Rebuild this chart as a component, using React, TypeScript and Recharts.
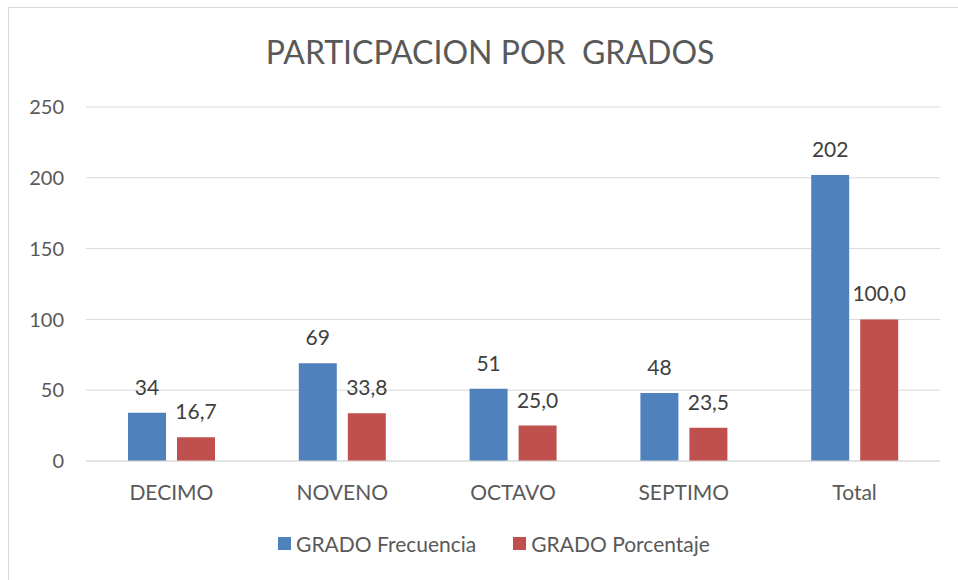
import React from "react";
import {
  Bar,
  BarChart,
  CartesianGrid,
  LabelList,
  Legend,
  XAxis,
  YAxis,
} from "recharts";

const grados: string[] = ["DECIMO", "NOVENO", "OCTAVO", "SEPTIMO", "Total"];
const frecuencia: number[] = [34, 69, 51, 48, 202];
const porcentaje: number[] = [16.7, 33.8, 25.0, 23.5, 100.0];
const yTicks: number[] = [0, 50, 100, 150, 200, 250];

const data = grados.map((g, i) => ({
  name: g,
  frecuencia: frecuencia[i],
  porcentaje: porcentaje[i],
}));

const FONT = "Lato, 'Open Sans', sans-serif";
const TEXT = "#595959";

const fmtComa = (v: any) => Number(v).toFixed(1).replace(".", ",");

// legend drawn by hand so spacing matches the office-style legend
const renderLegend = (props: any) => {
  const { payload } = props;
  return (
    <div
      style={{
        display: "flex",
        justifyContent: "center",
        alignItems: "center",
        fontFamily: FONT,
        fontSize: 21,
        color: TEXT,
        paddingLeft: 30,
      }}
    >
      {payload.map((entry: any, i: number) => (
        <div
          key={`leg-${i}`}
          style={{
            display: "flex",
            alignItems: "center",
            marginRight: i === 0 ? 37 : 0,
          }}
        >
          <span
            style={{
              width: 13,
              height: 13,
              background: entry.color,
              marginRight: 5,
              display: "inline-block",
            }}
          />
          <span>{entry.value}</span>
        </div>
      ))}
    </div>
  );
};

const App: React.FC = () => {
  return (
    <div
      style={{
        position: "absolute",
        left: 0,
        top: 0,
        width: 958,
        height: 580,
        background: "#fff",
        fontFamily: FONT,
        overflow: "hidden",
      }}
    >
      {/* chart frame */}
      <div
        style={{
          position: "absolute",
          left: 8,
          top: 7,
          width: 970,
          height: 590,
          border: "1px solid #d9d9d9",
        }}
      />
      <div
        style={{
          position: "absolute",
          left: 0,
          top: 32,
          width: 980,
          textAlign: "center",
          fontSize: 32,
          color: TEXT,
          whiteSpace: "pre",
        }}
      >
        PARTICPACION POR  GRADOS
      </div>
      <div style={{ position: "absolute", left: 0, top: 0 }}>
        <BarChart
          width={958}
          height={580}
          data={data}
          margin={{ top: 107, right: 18, left: 26, bottom: 54 }}
          barSize={38}
          barGap={11}
        >
          <CartesianGrid stroke="#d9d9d9" vertical={false} />
          <XAxis
            dataKey="name"
            axisLine={{ stroke: "#d9d9d9" }}
            tickLine={false}
            tickMargin={18}
            tick={{ fill: TEXT, fontSize: 21, fontFamily: FONT }}
            height={40}
          />
          <YAxis
            width={60}
            domain={[0, 250]}
            ticks={yTicks}
            axisLine={false}
            tickLine={false}
            tickMargin={16}
            tick={{ fill: TEXT, fontSize: 20, fontFamily: FONT }}
          />
          <Legend
            content={renderLegend}
            wrapperStyle={{ top: 531, left: 0, width: 958 }}
          />
          <Bar
            dataKey="frecuencia"
            name="GRADO Frecuencia"
            fill="#4F81BD"
            isAnimationActive={false}
          >
            <LabelList
              dataKey="frecuencia"
              position="top"
              offset={18}
              fill="#404040"
              fontSize={21}
              fontFamily={FONT}
            />
          </Bar>
          <Bar
            dataKey="porcentaje"
            name="GRADO Porcentaje"
            fill="#C0504D"
            isAnimationActive={false}
          >
            <LabelList
              dataKey="porcentaje"
              position="top"
              offset={18}
              fill="#404040"
              fontSize={21}
              fontFamily={FONT}
              formatter={fmtComa}
            />
          </Bar>
        </BarChart>
      </div>
    </div>
  );
};

export default App;
